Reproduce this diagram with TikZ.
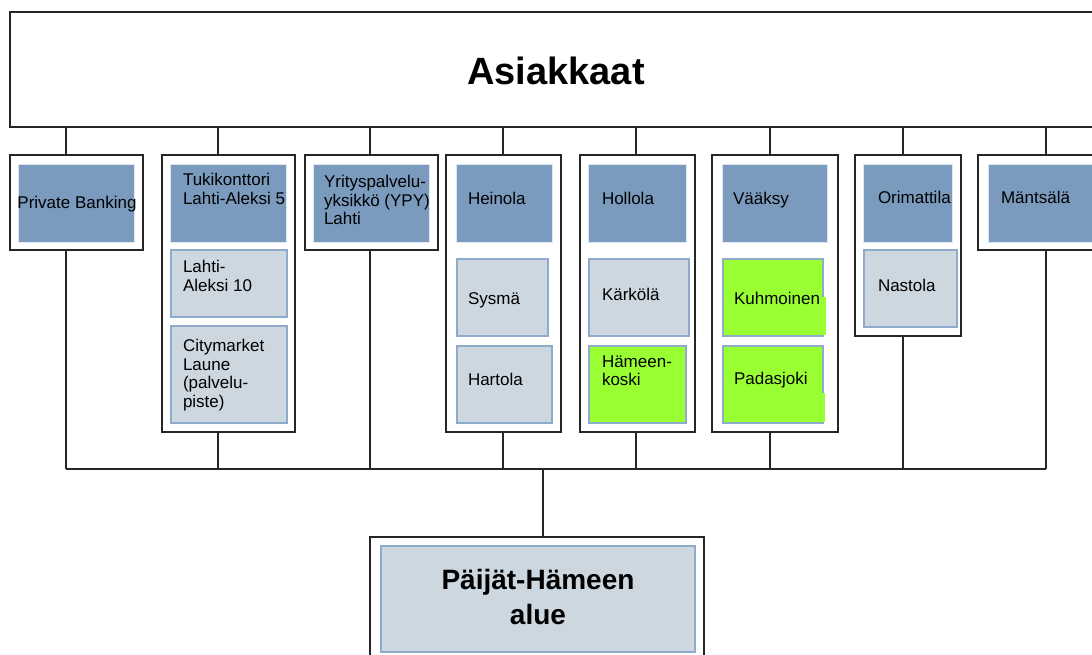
\documentclass[tikz,border=0pt]{standalone}
\usepackage{fontspec}
\setmainfont{Liberation Sans}
\definecolor{headblue}{RGB}{122,155,190}
\definecolor{paleblue}{RGB}{205,215,223}
\definecolor{paleedge}{RGB}{143,171,204}
\definecolor{limegreen}{RGB}{153,255,51}
\begin{document}
\begin{tikzpicture}[x=1pt,y=-1pt,
  every node/.style={inner sep=0pt, outer sep=0pt},
  frame/.style={draw=black!85, line width=1.6pt, fill=white, anchor=north west},
  headbox/.style={fill=headblue, draw=white!75!headblue, line width=0.8pt, anchor=north west},
  subbox/.style={fill=paleblue, draw=paleedge, line width=1.1pt, anchor=north west},
  limebox/.style={fill=limegreen, draw=paleedge, line width=1.1pt, anchor=north west},
  % multi-line labels are placed by the baseline of their last line
  lbl/.style={font=\fontsize{17}{18.5}\selectfont, align=left, anchor=base west},
  link/.style={draw=black!85, line width=1.3pt}]
\useasboundingbox (0,0) rectangle (1092,655);
\clip (0,0) rectangle (1092,655);

% connector columns and the lower bus
\coordinate (c1) at (66,0);
\coordinate (c2) at (218,0);
\coordinate (c3) at (370,0);
\coordinate (c4) at (503,0);
\coordinate (c5) at (636,0);
\coordinate (c6) at (770,0);
\coordinate (c7) at (903,0);
\coordinate (c8) at (1046,0);
\coordinate (c9) at (543,0);
\coordinate (busL) at (66,469);
\coordinate (busR) at (1046,469);

% top box
\node[frame, minimum width=1090pt, minimum height=115pt] (asiak) at (10,12) {};
\node[font=\bfseries\fontsize{38}{44}\selectfont, anchor=base] (asiakT) at (556,85) {Asiakkaat};

% outer frames
\node[frame, minimum width=133pt, minimum height=95pt]  (pbO) at (10,155) {};
\node[frame, minimum width=133pt, minimum height=277pt] (tkO) at (162,155) {};
\node[frame, minimum width=133pt, minimum height=95pt]  (ypO) at (305,155) {};
\node[frame, minimum width=115pt, minimum height=277pt] (heO) at (446,155) {};
\node[frame, minimum width=115pt, minimum height=277pt] (hoO) at (580,155) {};
\node[frame, minimum width=126pt, minimum height=277pt] (vaO) at (712,155) {};
\node[frame, minimum width=106pt, minimum height=181pt] (orO) at (855,155) {};
\node[frame, minimum width=130pt, minimum height=95pt]  (maO) at (978,155) {};
\node[frame, minimum width=334pt, minimum height=130pt] (pjO) at (370,537) {};

% unit boxes
\node[headbox, minimum width=116pt, minimum height=78pt] (pb) at (18,164) {};
\node[headbox, minimum width=116pt, minimum height=78pt] (tk) at (170,164) {};
\node[subbox,  minimum width=116pt, minimum height=67pt] (la) at (171,250) {};
\node[subbox,  minimum width=116pt, minimum height=97pt] (cm) at (171,326) {};
\node[headbox, minimum width=116pt, minimum height=78pt] (yp) at (313,164) {};
\node[headbox, minimum width=96pt,  minimum height=78pt] (he) at (456,164) {};
\node[subbox,  minimum width=91pt,  minimum height=77pt] (sy) at (457,259) {};
\node[subbox,  minimum width=95pt,  minimum height=77pt] (ha) at (457,346) {};
\node[headbox, minimum width=98pt,  minimum height=78pt] (ho) at (588,164) {};
\node[subbox,  minimum width=100pt, minimum height=77pt] (ka) at (589,259) {};
\node[limebox, minimum width=97pt,  minimum height=77pt] (hk) at (589,346) {};
\node[headbox, minimum width=105pt, minimum height=78pt] (va) at (722,164) {};
\node[limebox, minimum width=100pt, minimum height=77pt] (ku) at (723,259) {};
\node[limebox, minimum width=100pt, minimum height=77pt] (pa) at (723,346) {};
\fill[limegreen] (821,297) rectangle (826,335);
\fill[limegreen] (821,393) rectangle (825,422);
\node[headbox, minimum width=89pt,  minimum height=78pt] (or) at (863,164) {};
\node[subbox,  minimum width=93pt,  minimum height=77pt] (na) at (864,250) {};
\node[headbox, minimum width=120pt, minimum height=78pt] (ma) at (988,164) {};
\node[subbox,  minimum width=314pt, minimum height=106pt] (pj) at (381,546) {};

% labels
\node[lbl, anchor=base] (pbT) at (77,208) {Private Banking};
\node[lbl] (tkT) at (183,204.5) {Tukikonttori\\Lahti-Aleksi 5};
\node[lbl] (laT) at (183,291) {Lahti-\\Aleksi 10};
\node[lbl] (cmT) at (183,407) {Citymarket\\Laune\\(palvelu-\\piste)};
\node[lbl] (ypT) at (324,225) {Yrityspalvelu-\\yksikkö (YPY)\\Lahti};
\node[lbl] (heT) at (468,205) {Heinola};
\node[lbl] (syT) at (468,304) {Sysmä};
\node[lbl] (haT) at (468,385) {Hartola};
\node[lbl] (hoT) at (602,205) {Hollola};
\node[lbl] (kaT) at (602,300) {Kärkölä};
\node[lbl] (hkT) at (602,385.5) {Hämeen-\\koski};
\node[lbl] (vaT) at (733,205) {Vääksy};
\node[lbl] (kuT) at (734,304) {Kuhmoinen};
\node[lbl] (paT) at (734,384) {Padasjoki};
\node[lbl] (orT) at (878,204) {Orimattila};
\node[lbl] (naT) at (878,291) {Nastola};
\node[lbl] (maT) at (1001,204) {Mäntsälä};
\node[font=\bfseries\fontsize{28}{35}\selectfont, align=center, anchor=base] (pjT) at (538,624) {Päijät-Hämeen\\alue};

% connectors from the top box
\foreach \b/\c in {pbO/c1, tkO/c2, ypO/c3, heO/c4, hoO/c5, vaO/c6, orO/c7, maO/c8}
  \draw[link] (asiak.south -| \c) -- (\b.north -| \c);
% connectors down to the bus
\foreach \b/\c in {pbO/c1, tkO/c2, ypO/c3, heO/c4, hoO/c5, vaO/c6, orO/c7, maO/c8}
  \draw[link] (\b.south -| \c) -- (busL -| \c);
\draw[link] (busL) -- (busR);
\draw[link] (busL -| c9) -- (pjO.north -| c9);
\end{tikzpicture}
\end{document}
